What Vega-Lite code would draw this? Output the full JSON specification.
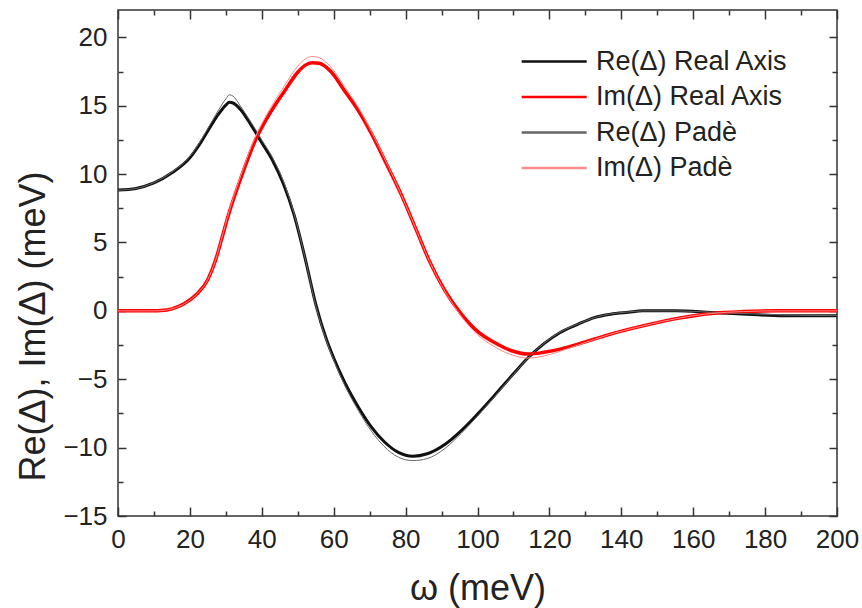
{
  "$schema": "https://vega.github.io/schema/vega-lite/v6.json",
  "width": 719,
  "height": 506,
  "autosize": "none",
  "padding": {"left": 118, "top": 10, "right": 25, "bottom": 92},
  "background": "white",
  "config": {
    "font": "Liberation Sans",
    "view": {"stroke": "#333", "strokeWidth": 1.5},
    "axis": {"grid": false, "labelColor": "#222", "titleColor": "#222", "labelFont": "Liberation Sans", "titleFont": "Liberation Sans", "titleFontWeight": "normal", "tickColor": "#333", "domainColor": "#333", "labelFlush": false}
  },
  "datasets": {
    "curves": [
      {"series": "Re(Δ) Real Axis", "w": 0, "v": 8.83},
      {"series": "Re(Δ) Real Axis", "w": 5, "v": 8.95},
      {"series": "Re(Δ) Real Axis", "w": 10, "v": 9.35},
      {"series": "Re(Δ) Real Axis", "w": 15, "v": 10.1},
      {"series": "Re(Δ) Real Axis", "w": 20, "v": 11.2},
      {"series": "Re(Δ) Real Axis", "w": 23, "v": 12.3},
      {"series": "Re(Δ) Real Axis", "w": 26, "v": 13.6},
      {"series": "Re(Δ) Real Axis", "w": 28, "v": 14.4},
      {"series": "Re(Δ) Real Axis", "w": 30, "v": 15.05},
      {"series": "Re(Δ) Real Axis", "w": 31, "v": 15.25},
      {"series": "Re(Δ) Real Axis", "w": 32, "v": 15.2},
      {"series": "Re(Δ) Real Axis", "w": 34, "v": 14.75},
      {"series": "Re(Δ) Real Axis", "w": 37, "v": 13.6},
      {"series": "Re(Δ) Real Axis", "w": 40, "v": 12.3},
      {"series": "Re(Δ) Real Axis", "w": 43, "v": 11.0},
      {"series": "Re(Δ) Real Axis", "w": 46, "v": 9.3},
      {"series": "Re(Δ) Real Axis", "w": 49, "v": 7.0},
      {"series": "Re(Δ) Real Axis", "w": 52, "v": 3.9},
      {"series": "Re(Δ) Real Axis", "w": 55, "v": 0.5},
      {"series": "Re(Δ) Real Axis", "w": 58, "v": -2.1},
      {"series": "Re(Δ) Real Axis", "w": 60, "v": -3.45},
      {"series": "Re(Δ) Real Axis", "w": 63, "v": -5.2},
      {"series": "Re(Δ) Real Axis", "w": 67, "v": -7.1},
      {"series": "Re(Δ) Real Axis", "w": 70.5, "v": -8.5},
      {"series": "Re(Δ) Real Axis", "w": 74, "v": -9.55},
      {"series": "Re(Δ) Real Axis", "w": 78, "v": -10.35},
      {"series": "Re(Δ) Real Axis", "w": 82, "v": -10.63},
      {"series": "Re(Δ) Real Axis", "w": 86, "v": -10.45},
      {"series": "Re(Δ) Real Axis", "w": 91, "v": -9.75},
      {"series": "Re(Δ) Real Axis", "w": 95.5, "v": -8.75},
      {"series": "Re(Δ) Real Axis", "w": 100, "v": -7.55},
      {"series": "Re(Δ) Real Axis", "w": 105, "v": -6.1},
      {"series": "Re(Δ) Real Axis", "w": 110, "v": -4.6},
      {"series": "Re(Δ) Real Axis", "w": 114, "v": -3.45},
      {"series": "Re(Δ) Real Axis", "w": 118.5, "v": -2.4},
      {"series": "Re(Δ) Real Axis", "w": 123, "v": -1.58},
      {"series": "Re(Δ) Real Axis", "w": 128, "v": -0.97},
      {"series": "Re(Δ) Real Axis", "w": 132.5, "v": -0.49},
      {"series": "Re(Δ) Real Axis", "w": 137, "v": -0.24},
      {"series": "Re(Δ) Real Axis", "w": 142, "v": -0.1},
      {"series": "Re(Δ) Real Axis", "w": 146, "v": 0},
      {"series": "Re(Δ) Real Axis", "w": 155, "v": 0},
      {"series": "Re(Δ) Real Axis", "w": 165, "v": -0.12},
      {"series": "Re(Δ) Real Axis", "w": 175, "v": -0.25},
      {"series": "Re(Δ) Real Axis", "w": 185, "v": -0.36},
      {"series": "Re(Δ) Real Axis", "w": 200, "v": -0.36},

      {"series": "Im(Δ) Real Axis", "w": 0, "v": 0},
      {"series": "Im(Δ) Real Axis", "w": 5, "v": 0},
      {"series": "Im(Δ) Real Axis", "w": 10, "v": 0},
      {"series": "Im(Δ) Real Axis", "w": 12, "v": 0.02},
      {"series": "Im(Δ) Real Axis", "w": 15, "v": 0.15},
      {"series": "Im(Δ) Real Axis", "w": 18.5, "v": 0.53},
      {"series": "Im(Δ) Real Axis", "w": 22, "v": 1.25},
      {"series": "Im(Δ) Real Axis", "w": 25, "v": 2.3},
      {"series": "Im(Δ) Real Axis", "w": 27, "v": 3.6},
      {"series": "Im(Δ) Real Axis", "w": 29, "v": 5.4},
      {"series": "Im(Δ) Real Axis", "w": 30.6, "v": 6.9},
      {"series": "Im(Δ) Real Axis", "w": 34.3, "v": 9.8},
      {"series": "Im(Δ) Real Axis", "w": 38, "v": 12.35},
      {"series": "Im(Δ) Real Axis", "w": 41.7, "v": 14.2},
      {"series": "Im(Δ) Real Axis", "w": 46.4, "v": 16.1},
      {"series": "Im(Δ) Real Axis", "w": 50, "v": 17.45},
      {"series": "Im(Δ) Real Axis", "w": 52, "v": 17.95},
      {"series": "Im(Δ) Real Axis", "w": 54, "v": 18.15},
      {"series": "Im(Δ) Real Axis", "w": 56, "v": 18.1},
      {"series": "Im(Δ) Real Axis", "w": 59, "v": 17.55},
      {"series": "Im(Δ) Real Axis", "w": 63, "v": 16.1},
      {"series": "Im(Δ) Real Axis", "w": 66.8, "v": 14.66},
      {"series": "Im(Δ) Real Axis", "w": 70.5, "v": 12.96},
      {"series": "Im(Δ) Real Axis", "w": 74.2, "v": 11.0},
      {"series": "Im(Δ) Real Axis", "w": 78.8, "v": 8.5},
      {"series": "Im(Δ) Real Axis", "w": 83, "v": 5.9},
      {"series": "Im(Δ) Real Axis", "w": 86.7, "v": 3.6},
      {"series": "Im(Δ) Real Axis", "w": 90.9, "v": 1.5},
      {"series": "Im(Δ) Real Axis", "w": 95.5, "v": -0.24},
      {"series": "Im(Δ) Real Axis", "w": 100, "v": -1.5},
      {"series": "Im(Δ) Real Axis", "w": 104.6, "v": -2.3},
      {"series": "Im(Δ) Real Axis", "w": 109.3, "v": -2.9},
      {"series": "Im(Δ) Real Axis", "w": 114, "v": -3.16},
      {"series": "Im(Δ) Real Axis", "w": 118.5, "v": -3.03},
      {"series": "Im(Δ) Real Axis", "w": 123, "v": -2.8},
      {"series": "Im(Δ) Real Axis", "w": 128, "v": -2.43},
      {"series": "Im(Δ) Real Axis", "w": 137, "v": -1.7},
      {"series": "Im(Δ) Real Axis", "w": 146, "v": -1.1},
      {"series": "Im(Δ) Real Axis", "w": 156, "v": -0.53},
      {"series": "Im(Δ) Real Axis", "w": 165, "v": -0.19},
      {"series": "Im(Δ) Real Axis", "w": 174, "v": -0.05},
      {"series": "Im(Δ) Real Axis", "w": 183, "v": 0},
      {"series": "Im(Δ) Real Axis", "w": 200, "v": 0},

      {"series": "Re(Δ) Padè", "w": 0, "v": 8.83},
      {"series": "Re(Δ) Padè", "w": 5, "v": 8.95},
      {"series": "Re(Δ) Padè", "w": 10, "v": 9.38},
      {"series": "Re(Δ) Padè", "w": 15, "v": 10.15},
      {"series": "Re(Δ) Padè", "w": 20, "v": 11.3},
      {"series": "Re(Δ) Padè", "w": 23, "v": 12.45},
      {"series": "Re(Δ) Padè", "w": 26, "v": 13.8},
      {"series": "Re(Δ) Padè", "w": 28, "v": 14.7},
      {"series": "Re(Δ) Padè", "w": 30, "v": 15.5},
      {"series": "Re(Δ) Padè", "w": 31, "v": 15.8},
      {"series": "Re(Δ) Padè", "w": 32, "v": 15.7},
      {"series": "Re(Δ) Padè", "w": 34, "v": 15.0},
      {"series": "Re(Δ) Padè", "w": 37, "v": 13.8},
      {"series": "Re(Δ) Padè", "w": 40, "v": 12.5},
      {"series": "Re(Δ) Padè", "w": 43, "v": 11.2},
      {"series": "Re(Δ) Padè", "w": 46, "v": 9.5},
      {"series": "Re(Δ) Padè", "w": 49, "v": 7.1},
      {"series": "Re(Δ) Padè", "w": 52, "v": 3.9},
      {"series": "Re(Δ) Padè", "w": 55, "v": 0.4},
      {"series": "Re(Δ) Padè", "w": 58, "v": -2.2},
      {"series": "Re(Δ) Padè", "w": 60, "v": -3.6},
      {"series": "Re(Δ) Padè", "w": 63, "v": -5.4},
      {"series": "Re(Δ) Padè", "w": 67, "v": -7.35},
      {"series": "Re(Δ) Padè", "w": 70.5, "v": -8.8},
      {"series": "Re(Δ) Padè", "w": 74, "v": -9.9},
      {"series": "Re(Δ) Padè", "w": 78, "v": -10.7},
      {"series": "Re(Δ) Padè", "w": 82, "v": -10.95},
      {"series": "Re(Δ) Padè", "w": 86, "v": -10.8},
      {"series": "Re(Δ) Padè", "w": 91, "v": -10.05},
      {"series": "Re(Δ) Padè", "w": 95.5, "v": -8.95},
      {"series": "Re(Δ) Padè", "w": 100, "v": -7.7},
      {"series": "Re(Δ) Padè", "w": 105, "v": -6.2},
      {"series": "Re(Δ) Padè", "w": 110, "v": -4.65},
      {"series": "Re(Δ) Padè", "w": 114, "v": -3.45},
      {"series": "Re(Δ) Padè", "w": 118.5, "v": -2.38},
      {"series": "Re(Δ) Padè", "w": 123, "v": -1.55},
      {"series": "Re(Δ) Padè", "w": 128, "v": -0.95},
      {"series": "Re(Δ) Padè", "w": 132.5, "v": -0.5},
      {"series": "Re(Δ) Padè", "w": 137, "v": -0.22},
      {"series": "Re(Δ) Padè", "w": 142, "v": -0.08},
      {"series": "Re(Δ) Padè", "w": 146, "v": 0},
      {"series": "Re(Δ) Padè", "w": 155, "v": 0},
      {"series": "Re(Δ) Padè", "w": 165, "v": -0.1},
      {"series": "Re(Δ) Padè", "w": 175, "v": -0.2},
      {"series": "Re(Δ) Padè", "w": 185, "v": -0.3},
      {"series": "Re(Δ) Padè", "w": 200, "v": -0.35},

      {"series": "Im(Δ) Padè", "w": 0, "v": 0},
      {"series": "Im(Δ) Padè", "w": 5, "v": 0},
      {"series": "Im(Δ) Padè", "w": 10, "v": 0},
      {"series": "Im(Δ) Padè", "w": 12, "v": 0.02},
      {"series": "Im(Δ) Padè", "w": 15, "v": 0.15},
      {"series": "Im(Δ) Padè", "w": 18.5, "v": 0.53},
      {"series": "Im(Δ) Padè", "w": 22, "v": 1.25},
      {"series": "Im(Δ) Padè", "w": 25, "v": 2.3},
      {"series": "Im(Δ) Padè", "w": 27, "v": 3.6},
      {"series": "Im(Δ) Padè", "w": 29, "v": 5.45},
      {"series": "Im(Δ) Padè", "w": 30.6, "v": 7.0},
      {"series": "Im(Δ) Padè", "w": 34.3, "v": 10.0},
      {"series": "Im(Δ) Padè", "w": 38, "v": 12.6},
      {"series": "Im(Δ) Padè", "w": 41.7, "v": 14.5},
      {"series": "Im(Δ) Padè", "w": 46.4, "v": 16.5},
      {"series": "Im(Δ) Padè", "w": 50, "v": 17.9},
      {"series": "Im(Δ) Padè", "w": 52, "v": 18.4},
      {"series": "Im(Δ) Padè", "w": 54, "v": 18.6},
      {"series": "Im(Δ) Padè", "w": 56, "v": 18.5},
      {"series": "Im(Δ) Padè", "w": 59, "v": 17.9},
      {"series": "Im(Δ) Padè", "w": 63, "v": 16.4},
      {"series": "Im(Δ) Padè", "w": 66.8, "v": 14.9},
      {"series": "Im(Δ) Padè", "w": 70.5, "v": 13.1},
      {"series": "Im(Δ) Padè", "w": 74.2, "v": 11.1},
      {"series": "Im(Δ) Padè", "w": 78.8, "v": 8.5},
      {"series": "Im(Δ) Padè", "w": 83, "v": 5.9},
      {"series": "Im(Δ) Padè", "w": 86.7, "v": 3.6},
      {"series": "Im(Δ) Padè", "w": 90.9, "v": 1.45},
      {"series": "Im(Δ) Padè", "w": 95.5, "v": -0.4},
      {"series": "Im(Δ) Padè", "w": 100, "v": -1.75},
      {"series": "Im(Δ) Padè", "w": 104.6, "v": -2.6},
      {"series": "Im(Δ) Padè", "w": 109.3, "v": -3.2},
      {"series": "Im(Δ) Padè", "w": 114, "v": -3.45},
      {"series": "Im(Δ) Padè", "w": 118.5, "v": -3.3},
      {"series": "Im(Δ) Padè", "w": 123, "v": -2.95},
      {"series": "Im(Δ) Padè", "w": 128, "v": -2.5},
      {"series": "Im(Δ) Padè", "w": 137, "v": -1.7},
      {"series": "Im(Δ) Padè", "w": 146, "v": -1.1},
      {"series": "Im(Δ) Padè", "w": 156, "v": -0.53},
      {"series": "Im(Δ) Padè", "w": 165, "v": -0.19},
      {"series": "Im(Δ) Padè", "w": 174, "v": -0.05},
      {"series": "Im(Δ) Padè", "w": 183, "v": 0},
      {"series": "Im(Δ) Padè", "w": 200, "v": 0}
    ]
  },
  "data": {"name": "curves"},
  "encoding": {
    "color": {
      "field": "series", "type": "nominal",
      "scale": {"domain": ["Re(Δ) Real Axis", "Im(Δ) Real Axis", "Re(Δ) Padè", "Im(Δ) Padè"], "range": ["#111111", "#ff0000", "#666666", "#ff8a8a"]},
      "legend": {
        "title": null, "orient": "none", "legendX": 401, "legendY": 38, "padding": 0,
        "labelFontSize": 27, "labelColor": "#222", "labelFont": "Liberation Sans",
        "symbolType": "M-1,0H5", "symbolSize": 470, "symbolStrokeWidth": 2.5, "labelOffset": 50, "rowPadding": 7.5, "labelLimit": 400
      }
    }
  },
  "layer": [
    {
      "transform": [{"filter": "datum.series == 'Re(Δ) Real Axis'"}],
      "mark": {"type": "line", "interpolate": "monotone", "clip": true, "strokeWidth": 3},
      "encoding": {
        "x": {"field": "w", "type": "quantitative", "scale": {"domain": [0, 200], "nice": false},
          "axis": {"orient": "bottom", "title": "ω (meV)", "values": [0, 20, 40, 60, 80, 100, 120, 140, 160, 180, 200], "ticks": false, "domain": false, "labelFontSize": 26, "labelPadding": 10, "titleFontSize": 36, "titlePadding": 19}},
        "y": {"field": "v", "type": "quantitative", "scale": {"domain": [-15, 22], "nice": false, "zero": false},
          "axis": {"orient": "left", "title": "Re(Δ), Im(Δ)  (meV)", "values": [-15, -10, -5, 0, 5, 10, 15, 20], "ticks": false, "domain": false, "labelFontSize": 26, "labelPadding": 11, "titleFontSize": 36, "titlePadding": 10, "titleY": 316}}
      }
    },
    {
      "transform": [{"filter": "datum.series == 'Im(Δ) Real Axis'"}],
      "mark": {"type": "line", "interpolate": "monotone", "clip": true, "strokeWidth": 3.5},
      "encoding": {
        "x": {"field": "w", "type": "quantitative", "scale": {"domain": [0, 200], "nice": false},
          "axis": {"orient": "bottom", "title": null, "labels": false, "domain": false, "values": [0, 10, 20, 30, 40, 50, 60, 70, 80, 90, 100, 110, 120, 130, 140, 150, 160, 170, 180, 190, 200],
            "tickSize": {"condition": {"test": "datum.value % 20 == 0", "value": -9}, "value": -5}, "tickWidth": 1.5}},
        "y": {"field": "v", "type": "quantitative", "scale": {"domain": [-15, 22], "nice": false, "zero": false},
          "axis": {"orient": "left", "title": null, "labels": false, "domain": false, "values": [-15, -12.5, -10, -7.5, -5, -2.5, 0, 2.5, 5, 7.5, 10, 12.5, 15, 17.5, 20],
            "tickSize": {"condition": {"test": "datum.value % 5 == 0", "value": -8}, "value": -5}, "tickWidth": 1.5}}
      }
    },
    {
      "transform": [{"filter": "datum.series == 'Re(Δ) Padè' || datum.series == 'Im(Δ) Padè'"}],
      "mark": {"type": "line", "interpolate": "monotone", "clip": true, "strokeWidth": 1},
      "encoding": {
        "x": {"field": "w", "type": "quantitative", "scale": {"domain": [0, 200], "nice": false},
          "axis": {"orient": "top", "title": null, "labels": false, "domain": false, "values": [0, 10, 20, 30, 40, 50, 60, 70, 80, 90, 100, 110, 120, 130, 140, 150, 160, 170, 180, 190, 200],
            "tickSize": {"condition": {"test": "datum.value % 20 == 0", "value": -9}, "value": -5}, "tickWidth": 1.5}},
        "y": {"field": "v", "type": "quantitative", "scale": {"domain": [-15, 22], "nice": false, "zero": false},
          "axis": {"orient": "right", "title": null, "labels": false, "domain": false, "values": [-15, -12.5, -10, -7.5, -5, -2.5, 0, 2.5, 5, 7.5, 10, 12.5, 15, 17.5, 20],
            "tickSize": {"condition": {"test": "datum.value % 5 == 0", "value": -8}, "value": -5}, "tickWidth": 1.5}}
      }
    }
  ],
  "resolve": {"axis": {"x": "independent", "y": "independent"}}
}
